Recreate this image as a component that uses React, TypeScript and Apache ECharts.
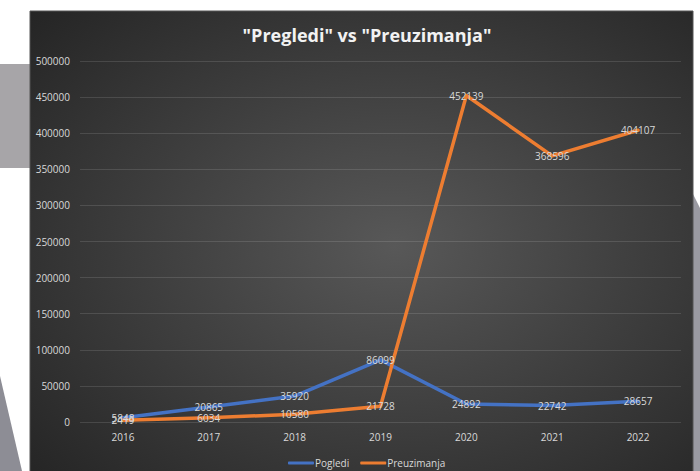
import React, { useEffect, useRef } from "react";
import * as echarts from "echarts";

const years = ["2016", "2017", "2018", "2019", "2020", "2021", "2022"];
const pogledi = [5848, 20865, 35920, 86099, 24892, 22742, 28657];
const preuzimanja = [2419, 6034, 10580, 21728, 452139, 368596, 404107];
const titleText = '"Pregledi" vs "Preuzimanja"';

export default function App() {
  const ref = useRef<HTMLDivElement>(null);
  useEffect(() => {
    document.body.style.margin = "0";
    const chart = echarts.init(ref.current!, undefined, { renderer: "svg" });
    const labelStyle = {
      show: true,
      position: "inside" as const,
      color: "#d9d9d9",
      fontSize: 10,
      fontFamily: "Open Sans",
    };
    chart.setOption({
      animation: false,
      backgroundColor: "#ffffff",
      graphic: [
        { type: "rect", z: -10, shape: { x: 0, y: 64, width: 30, height: 104 }, style: { fill: "#a7a5a8" } },
        { type: "polygon", z: -10, shape: { points: [[0, 376], [22, 471], [0, 471]] }, style: { fill: "#8d8d95" } },
        { type: "polygon", z: -10, shape: { points: [[693, 194], [700, 208], [700, 471], [693, 471]] }, style: { fill: "#9a9aa2" } },
        {
          type: "rect",
          z: -9,
          shape: { x: 30, y: 11, width: 663, height: 470 },
          style: {
            fill: new echarts.graphic.RadialGradient(0.55, 0.5, 0.75, [
              { offset: 0, color: "#585858" },
              { offset: 1, color: "#242424" },
            ]),
            stroke: "#555555",
            lineWidth: 1,
          },
        },
      ],
      title: {
        text: titleText,
        left: 362,
        top: 21,
        textAlign: "center",
        textStyle: {
          color: "#f2f2f2",
          fontSize: 18,
          fontWeight: "bold",
          fontFamily: "Open Sans",
        },
      },
      legend: {
        top: 453,
        left: 283,
        icon: "roundRect",
        itemWidth: 26,
        itemHeight: 3,
        itemGap: 11,
        textStyle: { color: "#d9d9d9", fontSize: 10, fontFamily: "Open Sans", padding: [0, 0, 0, -4] },
        data: ["Pogledi", "Preuzimanja"],
      },
      grid: { left: 80, right: 19, top: 61, bottom: 49, containLabel: false },
      xAxis: {
        type: "category",
        data: years,
        boundaryGap: true,
        axisLine: { show: false },
        axisTick: { show: false },
        axisLabel: { color: "#d9d9d9", fontSize: 10, fontFamily: "Open Sans", margin: 10 },
      },
      yAxis: {
        type: "value",
        min: 0,
        max: 500000,
        interval: 50000,
        axisLine: { show: false },
        axisTick: { show: false },
        axisLabel: {
          color: "#d9d9d9",
          fontSize: 10,
          fontFamily: "Open Sans",
          margin: 10,
          formatter: (v: number) => String(v),
        },
        splitLine: { lineStyle: { color: "rgba(255,255,255,0.12)", width: 1 } },
      },
      series: [
        {
          name: "Pogledi",
          type: "line",
          data: pogledi,
          symbol: "circle",
          symbolSize: 0,
          showSymbol: true,
          color: "#4472c4",
          lineStyle: { width: 3.5, color: "#4472c4", cap: "round", join: "round" },
          label: labelStyle,
        },
        {
          name: "Preuzimanja",
          type: "line",
          data: preuzimanja,
          symbol: "circle",
          symbolSize: 0,
          showSymbol: true,
          color: "#ed7d31",
          lineStyle: { width: 3.5, color: "#ed7d31", cap: "round", join: "round" },
          label: labelStyle,
        },
      ],
    });
    return () => chart.dispose();
  }, []);
  return <div ref={ref} style={{ width: 700, height: 471 }} />;
}
